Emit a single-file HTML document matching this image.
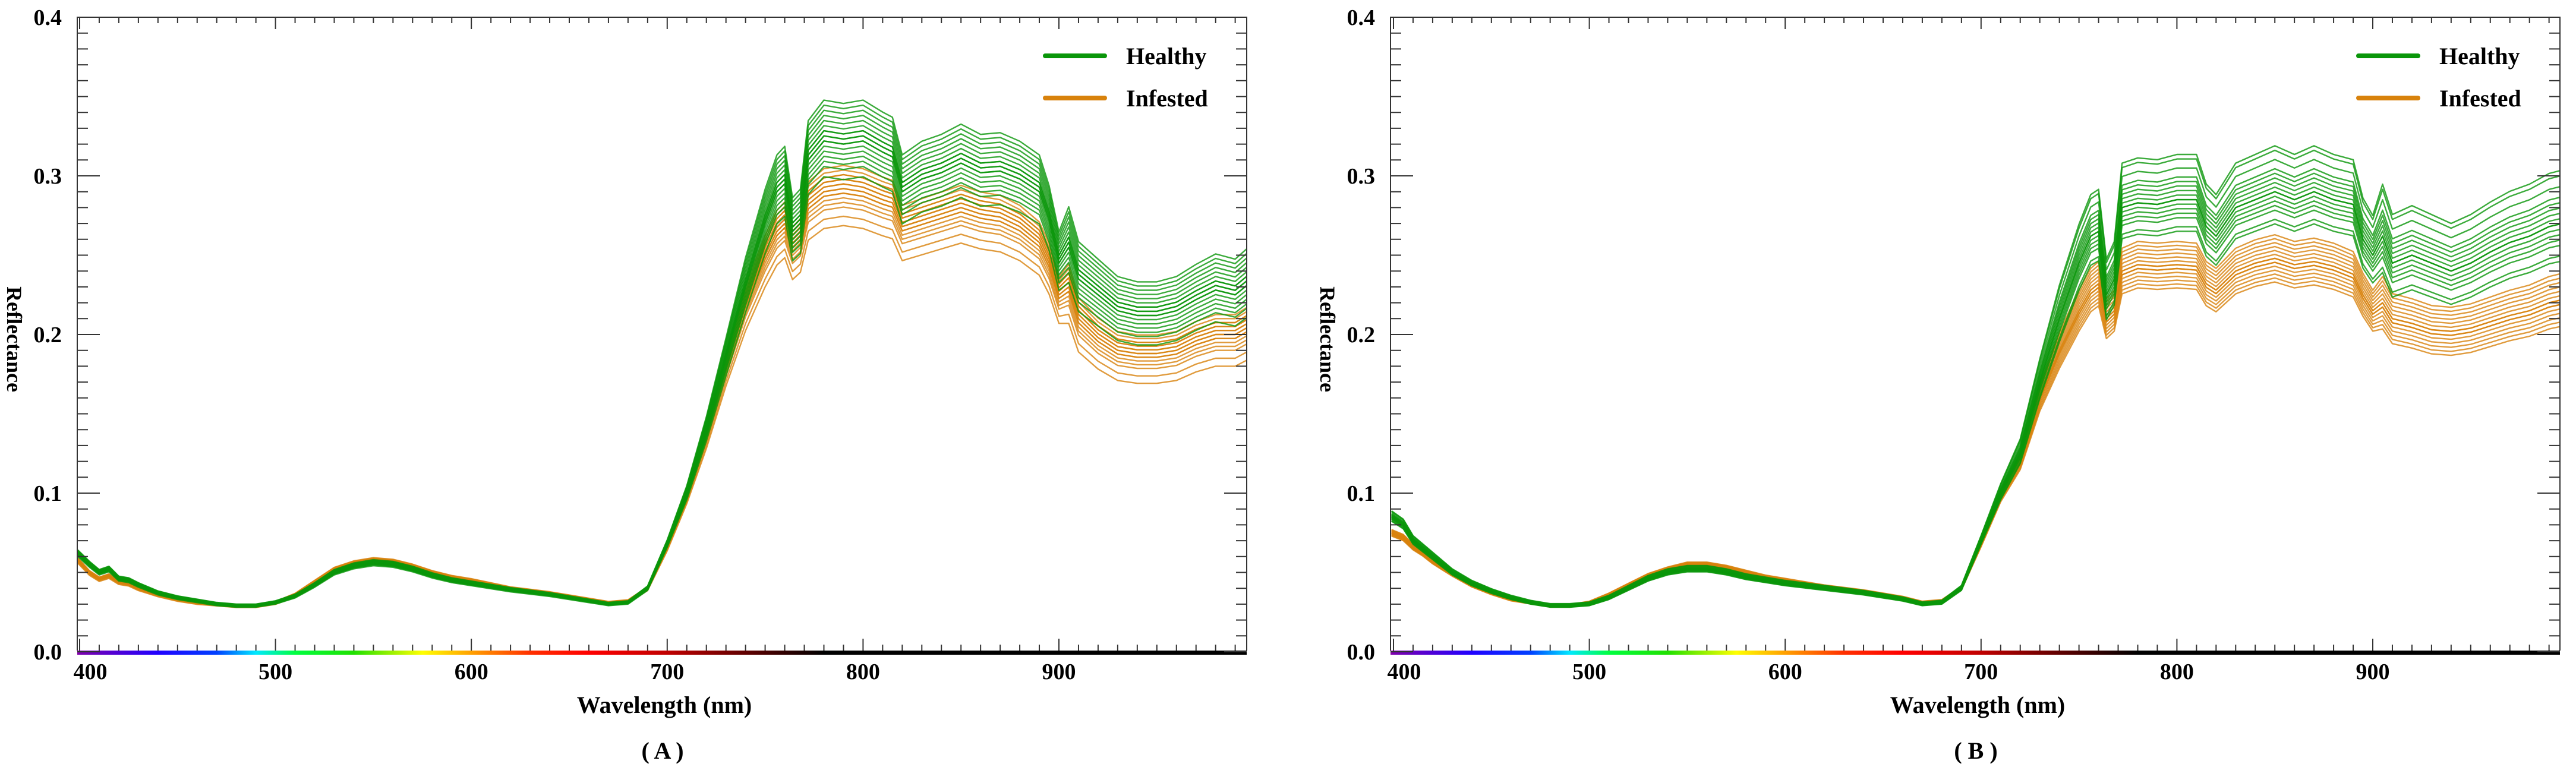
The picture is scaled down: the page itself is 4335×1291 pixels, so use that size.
<!DOCTYPE html>
<html><head><meta charset="utf-8">
<style>
html,body{margin:0;padding:0;background:#fff;}
svg{display:block;font-family:"Liberation Serif","Times New Roman",Times,"DejaVu Serif",serif;}
text{font-family:"Liberation Serif","Times New Roman",Times,"DejaVu Serif",serif;font-weight:bold;fill:#000;}
</style></head>
<body>
<svg id="fig" width="4335" height="1291" viewBox="0 0 4335 1291" xmlns="http://www.w3.org/2000/svg">
<defs>
<linearGradient id="specA" x1="0" x2="1" y1="0" y2="0"></linearGradient>
<linearGradient id="specB" x1="0" x2="1" y1="0" y2="0"></linearGradient>
</defs>
</svg>
<script>
// ---------- DATA ----------
const wavelengths = [399,405,410,415,420,425,430,440,450,460,470,480,490,500,510,520,530,540,550,560,570,580,590,600,620,640,660,670,680,690,700,710,720,730,740,750,756,760,764,768,772,780,790,800,810,815,820,830,840,850,860,870,880,890,895,900,905,910,920,930,940,950,960,970,980,990,997];
const healthyA = [0.062,0.055,0.05,0.052,0.046,0.045,0.042,0.037,0.034,0.032,0.030,0.029,0.029,0.031,0.035,0.042,0.050,0.054,0.056,0.055,0.052,0.048,0.045,0.043,0.039,0.036,0.032,0.030,0.031,0.040,0.068,0.100,0.140,0.185,0.230,0.270,0.290,0.295,0.265,0.270,0.310,0.322,0.320,0.322,0.315,0.312,0.290,0.298,0.302,0.308,0.302,0.303,0.298,0.290,0.272,0.245,0.255,0.235,0.225,0.215,0.212,0.212,0.215,0.222,0.228,0.225,0.232];
const infestedA = [0.058,0.050,0.046,0.048,0.044,0.043,0.040,0.036,0.033,0.031,0.030,0.029,0.029,0.031,0.036,0.044,0.052,0.056,0.058,0.057,0.054,0.050,0.047,0.045,0.040,0.037,0.033,0.031,0.032,0.040,0.066,0.098,0.136,0.180,0.220,0.250,0.265,0.270,0.255,0.260,0.282,0.290,0.292,0.290,0.285,0.283,0.268,0.272,0.276,0.280,0.276,0.274,0.268,0.258,0.245,0.225,0.230,0.210,0.198,0.190,0.188,0.188,0.190,0.196,0.200,0.200,0.205];
const healthyB = [0.085,0.080,0.070,0.065,0.060,0.055,0.050,0.043,0.038,0.034,0.031,0.029,0.029,0.030,0.034,0.040,0.046,0.050,0.052,0.052,0.050,0.047,0.045,0.043,0.040,0.037,0.033,0.030,0.031,0.040,0.070,0.100,0.125,0.170,0.210,0.245,0.262,0.265,0.225,0.235,0.280,0.283,0.282,0.285,0.285,0.268,0.262,0.280,0.285,0.290,0.285,0.290,0.285,0.282,0.260,0.250,0.262,0.245,0.250,0.245,0.240,0.245,0.252,0.258,0.262,0.268,0.270];
const infestedB = [0.075,0.072,0.066,0.062,0.057,0.053,0.049,0.042,0.037,0.033,0.031,0.029,0.029,0.031,0.036,0.042,0.048,0.052,0.055,0.055,0.053,0.050,0.047,0.045,0.041,0.038,0.034,0.031,0.032,0.040,0.068,0.098,0.120,0.160,0.190,0.215,0.228,0.232,0.210,0.215,0.240,0.244,0.243,0.244,0.243,0.232,0.228,0.240,0.245,0.248,0.244,0.246,0.243,0.238,0.225,0.215,0.220,0.210,0.207,0.203,0.202,0.204,0.208,0.212,0.215,0.220,0.222];
const healthyScaleA = [0.93,0.95,0.96,0.97,0.98,0.99,1.00,1.00,1.01,1.01,1.02,1.02,1.03,1.04,1.05,1.06,1.07,1.08];
const infestedScaleA = [0.92,0.94,0.96,0.97,0.98,0.99,0.99,1.00,1.00,1.01,1.01,1.02,1.02,1.03,1.03,1.04,1.05];
const healthyScaleB = [0.93,0.94,0.96,0.97,0.98,0.99,1.00,1.00,1.01,1.02,1.03,1.04,1.05,1.07,1.09,1.10];
const infestedScaleB = [0.94,0.95,0.96,0.97,0.98,0.99,0.99,1.00,1.00,1.01,1.02,1.03,1.04,1.05,1.06];
const yTicks = ["0.0","0.1","0.2","0.3","0.4"];
const xTicks = ["400","500","600","700","800","900"];
const legendLabels = ["Healthy","Infested"];

// ---------- LAYOUT ----------
const NS = "http://www.w3.org/2000/svg";
const svg = document.getElementById('fig');
const GREEN = "#0a960a", ORANGE = "#d8820c";
const FONT = "'Liberation Serif', 'Times New Roman', Times, 'DejaVu Serif', serif";
const panels = [
  {id:"a", left:130, right:2098, x400:134, caption:"( A )", h:healthyA, i:infestedA, hs:healthyScaleA, is:infestedScaleA, grad:"specA"},
  {id:"b", left:2340, right:4308, x400:2345, caption:"( B )", h:healthyB, i:infestedB, hs:healthyScaleB, is:infestedScaleB, grad:"specB"}
];
const TOP = 29, BOT = 1097, PXNM = 3.296;
function el(tag, attrs, parent){ const e=document.createElementNS(NS,tag); for(const k in attrs) e.setAttribute(k,attrs[k]); if(tag==='text'){e.setAttribute('font-family',FONT);e.setAttribute('font-weight','bold');} (parent||svg).appendChild(e); return e; }
function yS(v){ return BOT - v/0.4*(BOT-TOP); }
function nirWeight(l){ if(l<=700) return 0.45; if(l>=740) return l>900?1.25:1; return 0.45+0.55*(l-700)/40; }

const specStops=[[380,"#8a00a8"],[400,"#7a00b0"],[440,"#2000ff"],[470,"#0040ff"],[490,"#00e8ff"],[510,"#00ff40"],[540,"#20e000"],[575,"#ffff00"],[600,"#ffa000"],[630,"#ff3000"],[660,"#ff0000"],[700,"#c00000"],[740,"#600000"],[780,"#000000"],[1000,"#000000"]];

panels.forEach(p=>{
  const xS = l => p.x400 + (l-400)*PXNM;
  const lmin = 400 + (p.left-p.x400)/PXNM, lmax = 400 + (p.right-p.x400)/PXNM;
  const g = el('g',{});
  
  
  const grad = document.getElementById(p.grad);
  specStops.forEach(s=>{ el('stop',{offset:Math.max(0,Math.min(1,(s[0]-lmin)/(lmax-lmin))),'stop-color':s[1]},grad); });
  const cp = el('clipPath',{id:'clip'+p.id},svg);
  el('rect',{x:p.left,y:TOP,width:p.right-p.left,height:BOT-TOP},cp);
  const cg = el('g',{'clip-path':'url(#clip'+p.id+')'},g);
  
  
  function drawSet(base, scales, color, name){
    scales.forEach((s,k)=>{
      let d='';
      wavelengths.forEach((l,j)=>{
        const w = nirWeight(l);
        const v = base[j]*(1+(s-1)*w);
        d += (j?'L':'M')+xS(l).toFixed(1)+','+yS(v).toFixed(1);
      });
      const path = el('path',{d:d,fill:'none',stroke:color,'stroke-width':2.4,'stroke-opacity':0.8,'stroke-linejoin':'round'},cg);
      
      
    });
  }
  drawSet(p.i, p.is, ORANGE, 'infested');
  drawSet(p.h, p.hs, GREEN, 'healthy');
  const cb = el('rect',{x:p.left,y:BOT-2,width:p.right-p.left,height:7,fill:'url(#'+p.grad+')'},g);
  
  
  const fr = el('path',{d:'M'+p.left+','+(BOT-2)+'V'+TOP+'H'+p.right+'V'+(BOT-2),fill:'none',stroke:'#333','stroke-width':2},g);
  
  
  for(let k=0;k<=40;k++){
    const y = yS(k*0.01), len = (k%10===0)?38:18;
    el('line',{x1:p.left,x2:p.left+len,y1:y,y2:y,stroke:'#333','stroke-width':2},g);
    el('line',{x1:p.right,x2:p.right-len,y1:y,y2:y,stroke:'#333','stroke-width':2},g);
  }
  yTicks.forEach((t,k)=>{
    const tx = el('text',{x:p.left-26,y:yS(k*0.1)+13,'font-size':38,'text-anchor':'end'},g);
    tx.textContent=t;
    
    
  });
  for(let l=400;l<=990;l+=10){
    const x=xS(l), major=(l%100===0), len=major?20:10;
    el('line',{x1:x,x2:x,y1:TOP,y2:TOP+len,stroke:'#333','stroke-width':2},g);
    el('line',{x1:x,x2:x,y1:BOT-2,y2:BOT-2-len,stroke:'#333','stroke-width':2},g);
  }
  xTicks.forEach((t,k)=>{
    const l = 400+k*100;
    const tx = el('text',{x:xS(l)+(k===0?18:0),y:1143,'font-size':38,'text-anchor':'middle'},g);
    tx.textContent=t;
    
    
  });
  const xt = el('text',{x:p.left+988,y:1200,'font-size':40,'text-anchor':'middle'},g);
  xt.textContent='Wavelength (nm)';
  
  
  const yt = el('text',{x:0,y:0,'font-size':36,'text-anchor':'middle',transform:'translate('+(p.left-118)+',571) rotate(90)'},g);
  yt.textContent='Reflectance';
  
  
  const cap = el('text',{x:p.left+985,y:1277,'font-size':40,'text-anchor':'middle'},g);
  cap.textContent=p.caption;
  
  
  [GREEN,ORANGE].forEach((c,k)=>{
    const y = 94 + k*71;
    const ln = el('line',{x1:p.left+1629,x2:p.left+1729,y1:y,y2:y,stroke:c,'stroke-width':8,'stroke-linecap':'round'},g);
    
    
    const tx = el('text',{x:p.left+1765,y:y+14,'font-size':40},g);
    tx.textContent=legendLabels[k];
    
    
  });
});
</script>
</body></html>
